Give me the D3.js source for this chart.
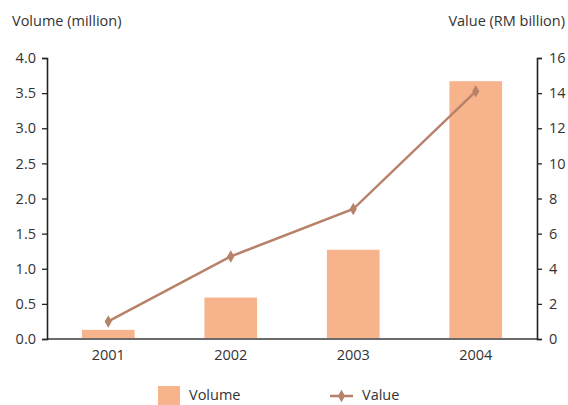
<!DOCTYPE html>
<html>
<head>
<meta charset="utf-8">
<script src="https://cdn.jsdelivr.net/npm/d3@7"></script>
<style>
  html, body { margin: 0; padding: 0; background: #fff; }
  svg { display: block; }
  text { font-family: "Open Sans", "Noto Sans", sans-serif; fill: #333; }
</style>
</head>
<body>
<script>
const years = ["2001", "2002", "2003", "2004"];
const volume = [0.13, 0.59, 1.27, 3.67];
const value = [1.0, 4.7, 7.4, 14.1];
const leftTicks = [0, 0.5, 1.0, 1.5, 2.0, 2.5, 3.0, 3.5, 4.0];
const rightTicks = [0, 2, 4, 6, 8, 10, 12, 14, 16];

const W = 568, H = 405;
const m = { left: 47, right: 568 - 537, top: 58, bottom: 405 - 339 };

const svg = d3.select("body").append("svg").attr("width", W).attr("height", H);

const x = d3.scaleBand().domain(years).range([m.left, W - m.right])
  .paddingInner(0.57).paddingOuter(0.285);
const yL = d3.scaleLinear().domain([0, 4]).range([H - m.bottom, m.top]);
const yR = d3.scaleLinear().domain([0, 16]).range([H - m.bottom, m.top]);

const barColor = "#F7B38B";
const lineColor = "#B7816A";

// bars
svg.append("g").selectAll("rect").data(years).join("rect")
  .attr("x", d => x(d))
  .attr("width", x.bandwidth())
  .attr("y", (d, i) => yL(volume[i]))
  .attr("height", (d, i) => yL(0) - yL(volume[i]))
  .attr("fill", barColor);

// baseline
svg.append("line")
  .attr("x1", m.left).attr("x2", W - m.right)
  .attr("y1", yL(0)).attr("y2", yL(0))
  .attr("stroke", "#6b6b6b").attr("stroke-width", 2);

// left axis
const gL = svg.append("g").attr("transform", `translate(${m.left},0)`)
  .call(d3.axisLeft(yL).tickValues(leftTicks).tickFormat(d3.format(".1f")).tickSize(5).tickPadding(6));
// right axis
const gR = svg.append("g").attr("transform", `translate(${W - m.right},0)`)
  .call(d3.axisRight(yR).tickValues(rightTicks).tickFormat(d3.format("d")).tickSize(5).tickPadding(7));
[gL, gR].forEach(g => {
  g.select(".domain").attr("stroke", "#222").attr("stroke-width", 1.6);
  g.selectAll(".tick line").attr("stroke", "#222").attr("stroke-width", 1.3);
  g.selectAll(".tick text").attr("font-size", 14.5).attr("fill", "#333")
    .attr("font-family", "'Open Sans', 'Noto Sans', sans-serif");
});

// x labels
svg.append("g").selectAll("text").data(years).join("text")
  .attr("x", d => x(d) + x.bandwidth() / 2)
  .attr("y", 360)
  .attr("text-anchor", "middle")
  .attr("font-size", 14.5)
  .text(d => d);

// line
const line = d3.line()
  .x((d, i) => x(years[i]) + x.bandwidth() / 2)
  .y(d => yR(d));
svg.append("path").datum(value)
  .attr("d", line)
  .attr("fill", "none")
  .attr("stroke", lineColor)
  .attr("stroke-width", 2.5);

const diamond = d3.symbol().type(d3.symbolDiamond).size(45);
svg.append("g").selectAll("path").data(value).join("path")
  .attr("d", diamond)
  .attr("transform", (d, i) => `translate(${x(years[i]) + x.bandwidth() / 2},${yR(d)})`)
  .attr("fill", lineColor);

// axis titles
svg.append("text").attr("x", 12).attr("y", 26).attr("font-size", 14.5).text("Volume (million)");
svg.append("text").attr("x", 565).attr("y", 26).attr("font-size", 14.5)
  .attr("text-anchor", "end").text("Value (RM billion)");

// legend
svg.append("rect").attr("x", 158).attr("y", 386).attr("width", 22).attr("height", 19).attr("fill", barColor);
svg.append("text").attr("x", 189).attr("y", 400).attr("font-size", 14.5).text("Volume");
svg.append("line").attr("x1", 330).attr("x2", 353).attr("y1", 396).attr("y2", 396)
  .attr("stroke", lineColor).attr("stroke-width", 2.5);
svg.append("path").attr("d", diamond).attr("transform", "translate(341.5,396)").attr("fill", lineColor);
svg.append("text").attr("x", 362).attr("y", 400).attr("font-size", 14.5).text("Value");
</script>
</body>
</html>
